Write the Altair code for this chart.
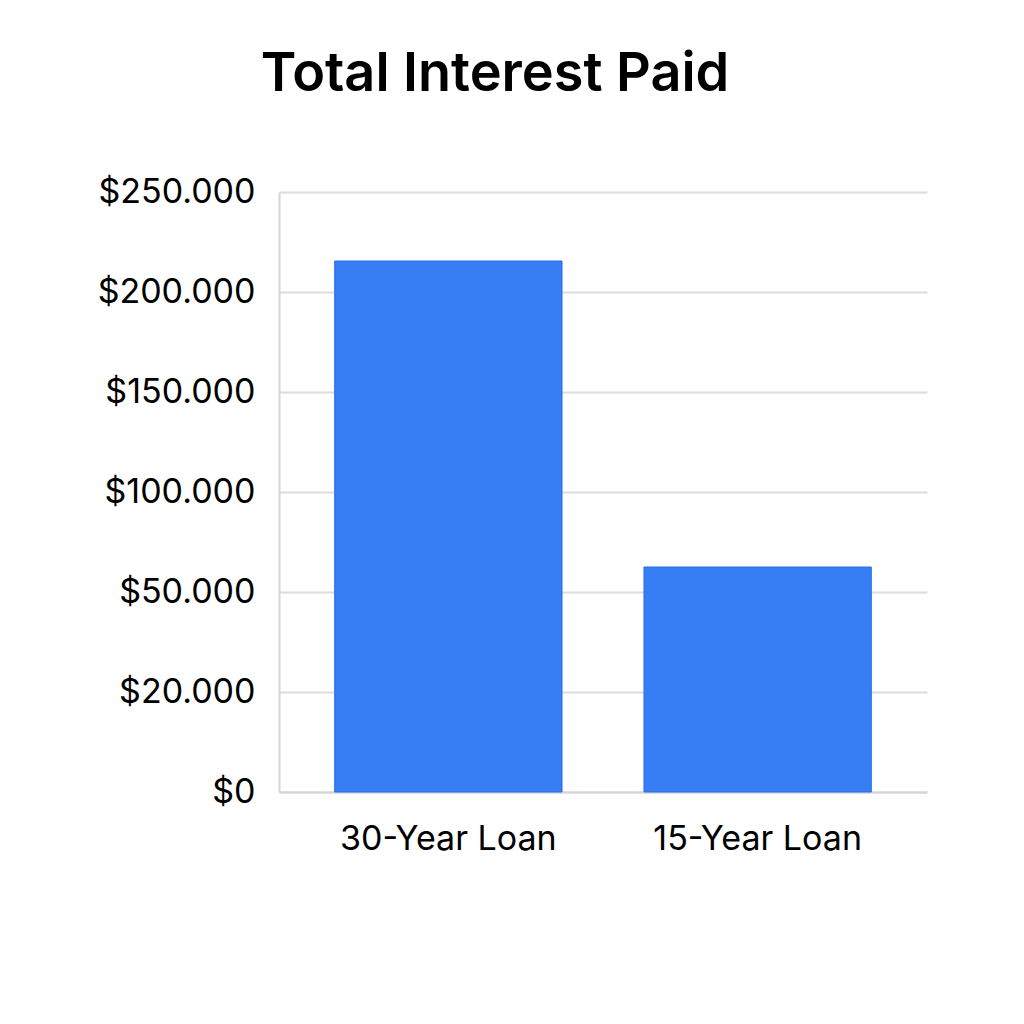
import altair as alt
import pandas as pd

categories = ["30-Year Loan", "15-Year Loan"]
interest = [215500, 62500]
tick_values = [0, 20000, 50000, 100000, 150000, 200000, 250000]

df = pd.DataFrame({"loan": categories, "interest": interest})

FONT = "Inter"

chart = alt.Chart(df).mark_bar(
    color="#377DF3", stroke="#2C6FE6", strokeWidth=1
).encode(
    x=alt.X("loan:N", sort=categories, title=None,
            scale=alt.Scale(paddingInner=0.265, paddingOuter=0.18),
            axis=alt.Axis(labelAngle=0, labelFontSize=34, labelFont=FONT,
                          labelColor="#000000", labelPadding=30, ticks=False,
                          labelLimit=0,
                          domainColor="#d6d6d6", domainWidth=2, grid=False)),
    y=alt.Y("interest:Q", title=None,
            scale=alt.Scale(domain=tick_values[:3] + [tick_values[-1]],
                            range=[600, 500, 400, 0], nice=False, zero=False),
            axis=alt.Axis(values=tick_values,
                          labelExpr="'$' + replace(format(datum.value, ','), ',', '.')",
                          labelFontSize=34, labelFont=FONT, labelColor="#000000",
                          labelPadding=24, ticks=False, domainColor="#d6d6d6",
                          domainWidth=2, gridColor="#dcdcdc", gridWidth=2)),
).properties(
    width=648, height=600,
    padding={"left": 271, "top": 184, "right": 89, "bottom": 224},
    autosize="none",
    background="white",
    title=alt.TitleParams("Total Interest Paid", font=FONT, fontSize=54,
                          fontWeight=600, color="#000000", anchor="middle",
                          frame="group", dx=-108, baseline="alphabetic", offset=30),
).configure_view(stroke=None)

chart.save("out.html", embed_options={"renderer": "svg", "actions": False})
